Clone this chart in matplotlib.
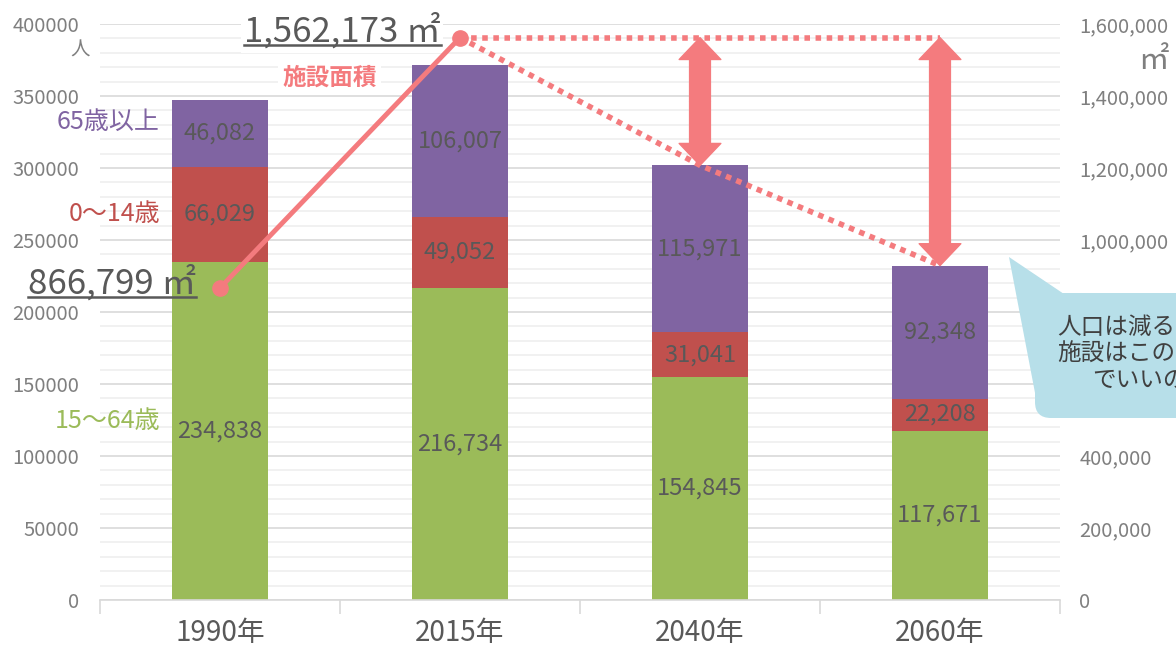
import numpy as np
import matplotlib
matplotlib.use("Agg")
import matplotlib.pyplot as plt
from matplotlib.ticker import MultipleLocator, FuncFormatter
from matplotlib.patches import FancyBboxPatch, Polygon
from matplotlib.lines import Line2D
from matplotlib.transforms import IdentityTransform

plt.rcParams['font.family'] = ['Noto Sans CJK JP', 'DejaVu Sans']

# data
years = ["1990年", "2015年", "2040年", "2060年"]
age_15_64 = [234838, 216734, 154845, 117671]
age_0_14 = [66029, 49052, 31041, 22208]
age_65 = [46082, 106007, 115971, 92348]
area = [866799, 1562173]          # 施設面積 (1990, 2015)
series_names = ["15〜64歳", "0〜14歳", "65歳以上"]

c_green = "#9bbb59"
c_red = "#c0504d"
c_purple = "#8064a2"
c_line = "#f47b7e"
c_text = "#595959"
c_tick = "#7f7f7f"

W, H = 1176, 652
fig = plt.figure(figsize=(W / 100, H / 100), dpi=100)
ax = fig.add_axes([100 / W, 52 / H, 960 / W, 576 / H])

x = np.arange(len(years))
g = np.array(age_15_64)
r = np.array(age_0_14)
p = np.array(age_65)
totals = g + r + p

bw = 0.4
ax.bar(x, g, bw, color=c_green, zorder=2)
ax.bar(x, r, bw, bottom=g, color=c_red, zorder=2)
ax.bar(x, p, bw, bottom=g + r, color=c_purple, zorder=2)

for i in range(len(x)):
    for val, bot in ((g[i], 0), (r[i], g[i]), (p[i], g[i] + r[i])):
        ax.text(x[i], bot + val / 2, f"{val:,}", ha='center', va='center',
                color=c_text, fontsize=17, zorder=3)

ax.set_xlim(-0.5, 3.5)
ax.set_ylim(0, 400000)
ax.yaxis.set_major_locator(MultipleLocator(50000))
ax.yaxis.set_minor_locator(MultipleLocator(10000))
ax.set_axisbelow(True)
ax.grid(axis='y', which='major', color='#d9d9d9', lw=1.2)
ax.grid(axis='y', which='minor', color='#efefef', lw=1.2)
for s in ('top', 'right', 'left'):
    ax.spines[s].set_visible(False)
ax.spines['bottom'].set_color('#d9d9d9')
ax.spines['bottom'].set_linewidth(1.2)
ax.set_xticks(x)
ax.set_xticklabels(years, fontsize=20, color=c_text)
ax.set_xticks(np.arange(-0.5, 4, 1), minor=True)
ax.tick_params(axis='x', which='major', length=0, pad=13)
ax.tick_params(axis='x', which='minor', length=10, color='#d9d9d9', width=1.2)
ax.tick_params(axis='y', which='both', length=0, pad=15, labelsize=14.5,
               labelcolor=c_tick)

# series labels left of 1990 bar
lab_y = [g[0] / 2 + 7000, g[0] + r[0] / 2, g[0] + r[0] + p[0] / 2 + 8000]
for name, yy, col in zip(series_names, lab_y, (c_green, c_red, c_purple)):
    ax.text(-0.25, yy, name, ha='right', va='center', color=col, fontsize=18)

ax.annotate("人", xy=(0, 1), xycoords='axes fraction', xytext=(-14, -19),
            textcoords='offset points', ha='center', va='center',
            color=c_tick, fontsize=14)

# right axis: 施設面積
ax2 = ax.twinx()
ax2.set_ylim(0, 1600000)
ax2.yaxis.set_major_locator(MultipleLocator(200000))
ax2.yaxis.set_major_formatter(FuncFormatter(lambda v, _: f"{v:,.0f}"))
ax2.tick_params(axis='y', length=0, pad=14, labelsize=14.5, labelcolor=c_tick)
for s in ax2.spines.values():
    s.set_visible(False)
ax2.annotate("㎡", xy=(1, 1), xycoords='axes fraction', xytext=(67, -26),
             textcoords='offset points', ha='center', va='center',
             color=c_tick, fontsize=22)

scale = 1600000 / 400000
ax2.plot([0, 1], area, color=c_line, lw=3.5, marker='o', ms=11, zorder=5)
ax2.plot([1, 3], [area[1], area[1]], color=c_line, lw=4,
         linestyle=(0, (1, 1)), dash_capstyle='butt', zorder=4)
ax2.plot([1, 2, 3], [area[1], totals[2] * scale, totals[3] * scale],
         color=c_line, lw=4, linestyle=(0, (1, 1)), dash_capstyle='butt',
         zorder=4)

# double arrows
for i in (2, 3):
    top = area[1]
    bot = totals[i] * scale
    mid = (top + bot) / 2
    for end in (top, bot):
        ax2.annotate("", xy=(i, end), xytext=(i, mid),
                     arrowprops=dict(arrowstyle="simple,head_length=1.05,head_width=2.0,tail_width=1.0",
                                     mutation_scale=15, color=c_line,
                                     shrinkA=0, shrinkB=0), zorder=6)

# value labels for area
big = []
for i, dx, dy in ((0, -17, -4), (1, -14, -3)):
    ax.annotate(f"{area[i]:,} ㎡", xy=(i, area[i] / scale), xytext=(dx, dy),
                textcoords='offset points', ha='right', va='baseline',
                fontsize=25, color='none', zorder=0.8,
                bbox=dict(facecolor='white', edgecolor='none', pad=2))
    t = ax2.annotate(f"{area[i]:,} ㎡", xy=(i, area[i]), xytext=(dx, dy),
                     textcoords='offset points', ha='right', va='baseline',
                     fontsize=25, color=c_text, zorder=7)
    big.append((t, i, dy))

ax.annotate("施設面積", xy=(1, area[1] / scale), xytext=(-94, -29),
            textcoords='offset points', ha='center', va='center',
            fontsize=17, fontweight='bold', color=c_line, zorder=0.8,
            bbox=dict(facecolor='white', edgecolor='none', pad=3))

# callout (cut off by the right edge, as in the original slide)
fig.add_artist(Polygon([(1009, H - 257), (1064, H - 294), (1036, H - 398)],
                       closed=True, transform=IdentityTransform(),
                       facecolor='#b7dfe9', edgecolor='none'))
fig.add_artist(FancyBboxPatch((1035, H - 418), 240, 125,
                              boxstyle="round,pad=0,rounding_size=16",
                              transform=IdentityTransform(),
                              facecolor='#b7dfe9', edgecolor='none'))
fig.text(1057 / W, 1 - 354 / H, "人口は減るのに\n施設はこのまま\nでいいの",
         ha='left', va='center', multialignment='center', linespacing=1.22,
         fontsize=17, color='#404040')

# underline the area values
fig.canvas.draw()
renderer = fig.canvas.get_renderer()
for t, i, dy in big:
    bb = t.get_window_extent(renderer)
    base = ax2.transData.transform((i, area[i]))[1] + dy * 100 / 72
    fig.add_artist(Line2D([bb.x0, bb.x1], [base - 3, base - 3], color=c_text,
                          lw=1.8, transform=IdentityTransform()))

fig.savefig("out.png", dpi=100)
